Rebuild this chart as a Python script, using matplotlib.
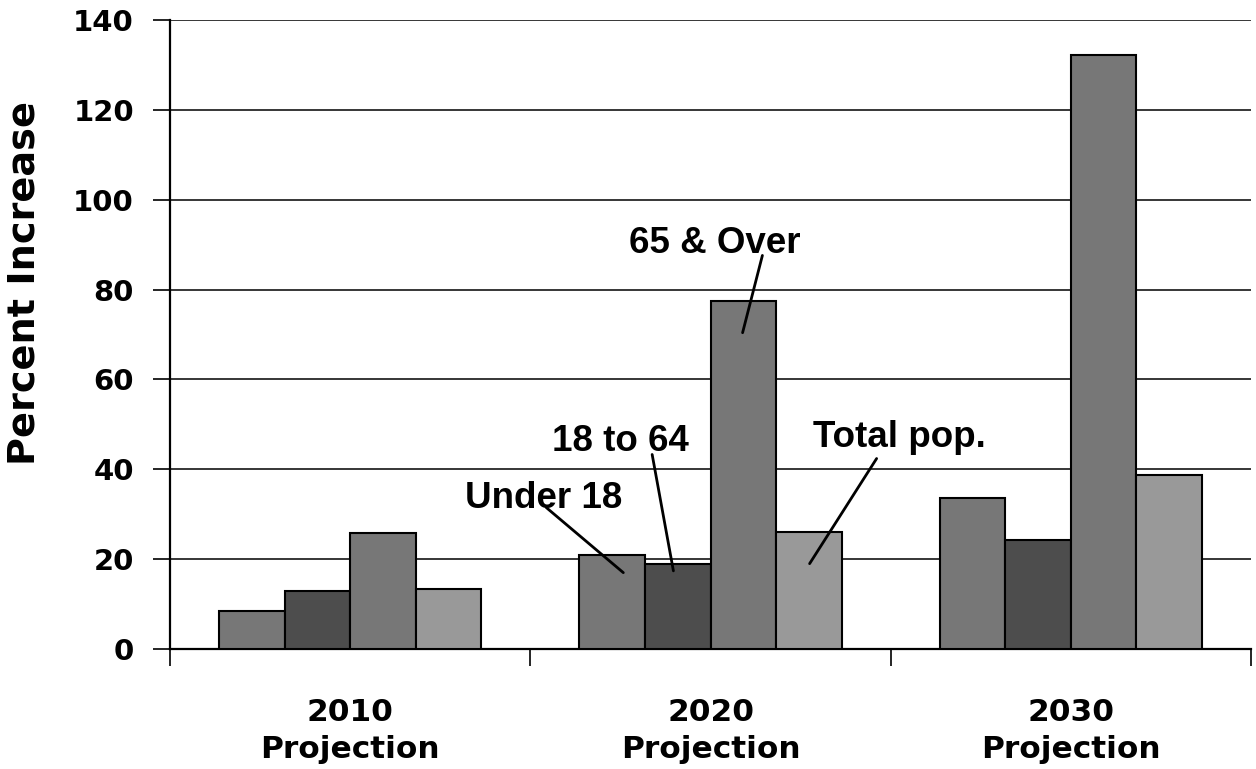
import matplotlib
matplotlib.use("Agg")
import matplotlib.pyplot as plt
import numpy as np

# Projected percent increase in population by age group
periods = ["2010\nProjection", "2020\nProjection", "2030\nProjection"]
groups = ["Under 18", "18 to 64", "65 & Over", "Total pop."]
under_18 = [8.4, 20.9, 33.6]
age_18_64 = [13.0, 19.0, 24.2]
over_65 = [25.9, 77.5, 132.3]
total_pop = [13.4, 26.1, 38.8]
y_ticks = [0, 20, 40, 60, 80, 100, 120, 140]

series = [under_18, age_18_64, over_65, total_pop]
colors = ["#777777", "#4d4d4d", "#777777", "#999999"]

fig = plt.figure(figsize=(12.56, 7.69), dpi=100)
ax = fig.add_axes([0.1354, 0.156, 0.8606, 0.818])

x = np.arange(len(periods))
width = 0.182
offsets = (np.arange(len(series)) - 1.5) * width
for vals, off, col in zip(series, offsets, colors):
    ax.bar(x + off, vals, width, color=col, edgecolor="black", linewidth=1.5, zorder=3)

ax.set_xlim(-0.5, 2.5)
ax.set_ylim(0, 140)
ax.set_yticks(y_ticks)
ax.set_yticklabels([str(t) for t in y_ticks], fontfamily="DejaVu Sans",
                   fontweight="heavy", fontsize=21)
ax.yaxis.grid(True, color="black", linewidth=1.1, zorder=0)
ax.set_axisbelow(True)

# group boundaries as major ticks, period labels on minor ticks
ax.set_xticks([-0.5, 0.5, 1.5, 2.5])
ax.set_xticklabels([])
ax.set_xticks(x, minor=True)
ax.set_xticklabels(periods, minor=True, fontfamily="DejaVu Sans",
                   fontweight="heavy", fontsize=22.5, linespacing=1.35)
ax.tick_params(axis="x", which="major", direction="out", length=12, width=1.2)
ax.tick_params(axis="x", which="minor", length=0, pad=35)
ax.tick_params(axis="y", direction="out", length=12, width=1.2, pad=14)

for side in ("top", "right"):
    ax.spines[side].set_visible(False)
ax.spines["left"].set_linewidth(1.6)
ax.spines["bottom"].set_linewidth(1.6)

fig.text(25 / 1256, 1 - 283 / 769, "Percent Increase", rotation=90,
         ha="center", va="center", fontfamily="DejaVu Sans",
         fontweight="bold", fontsize=27.5)

# callout labels for the 2020 group
label_font = dict(fontfamily="Liberation Sans", fontweight="bold", fontsize=26.5,
                  ha="center", va="center", zorder=5)
callouts = [
    # (group index, text position, line start, line end)
    (0, (0.536, 33.5), (0.544, 31.5), (0.758, 17.0)),
    (1, (0.75, 46.2), (0.838, 43.3), (0.897, 17.4)),
    (2, (1.011, 90.3), (1.144, 87.6), (1.089, 70.4)),
    (3, (1.523, 47.0), (1.461, 42.4), (1.275, 19.0)),
]
for gi, txt_pos, start, end in callouts:
    ax.text(txt_pos[0], txt_pos[1], groups[gi], **label_font)
    ax.annotate("", xy=end, xytext=start,
                arrowprops=dict(arrowstyle="-", color="black", lw=2,
                                shrinkA=0, shrinkB=0), zorder=5)

fig.savefig("out.png", dpi=100)
